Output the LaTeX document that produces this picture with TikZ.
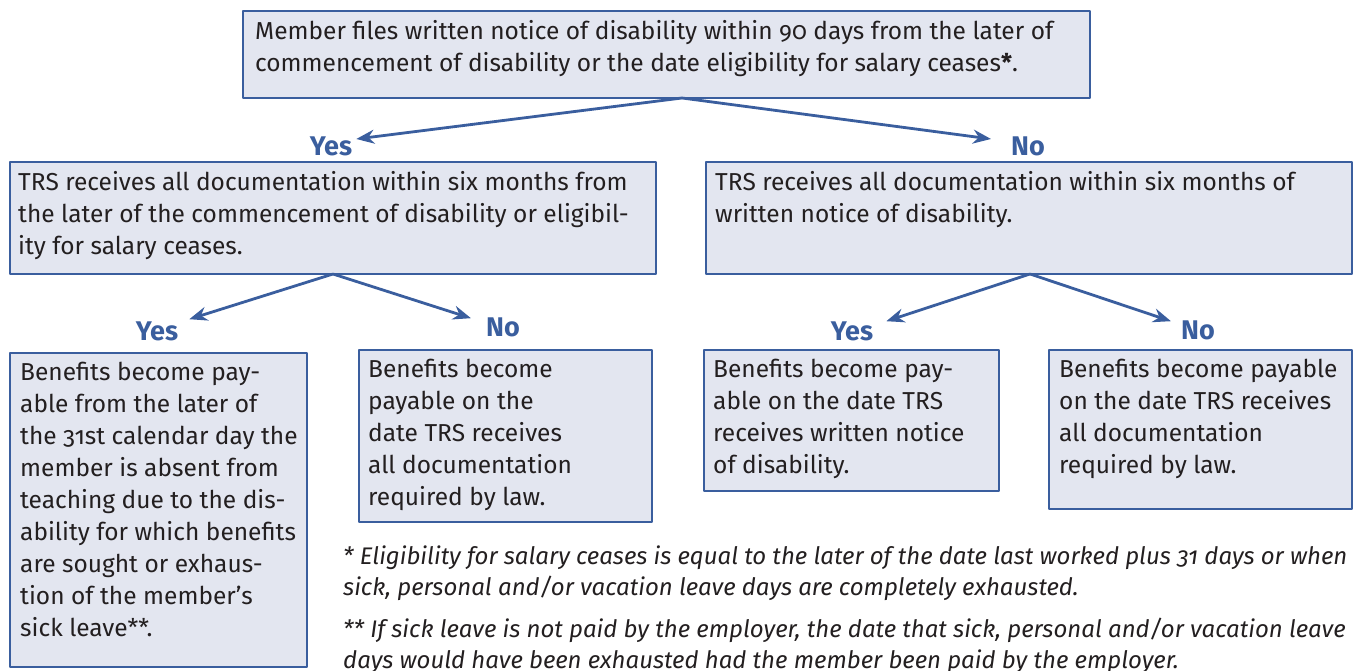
\documentclass[tikz,border=0pt]{standalone}
\usepackage{fontspec}
\setmainfont[Numbers=OldStyle]{Fira Sans}
\newfontfamily\notefont[Numbers=OldStyle]{Fira Sans}
\usetikzlibrary{arrows.meta}
\definecolor{boxfill}{RGB}{227,230,240}
\definecolor{boxline}{RGB}{58,94,158}
\definecolor{ink}{RGB}{35,31,32}
\tikzset{
  qbox/.style={draw=boxline, fill=boxfill, line width=2pt, anchor=north west, inner sep=0pt},
  qtext/.style={anchor=north west, align=left, inner sep=0pt, text=ink, font=\fontsize{24.5}{32}\selectfont},
  answer/.style={text=boxline, inner sep=0pt, font=\fontsize{27}{28}\selectfont\bfseries},
  note/.style={anchor=north west, align=left, inner sep=0pt, text=ink, font=\notefont\itshape\fontsize{24}{31}\selectfont},
  flow/.style={draw=boxline, line width=2.8pt, -{Stealth[length=18pt,width=14pt]}}
}
\begin{document}
\begin{tikzpicture}[x=1pt,y=-1pt,line join=round]
\useasboundingbox (0,0) rectangle (1356,671);
% boxes
\node[qbox, minimum width=847pt, minimum height=87pt] (notice) at (242,10) {};
\node[qbox, minimum width=646pt, minimum height=112pt] (docsA) at (9,161) {};
\node[qbox, minimum width=646pt, minimum height=112pt] (docsB) at (705,161) {};
\node[qbox, minimum width=297pt, minimum height=314pt] (payA) at (9,352) {};
\node[qbox, minimum width=293pt, minimum height=172pt] (payB) at (358,349) {};
\node[qbox, minimum width=295pt, minimum height=141pt] (payC) at (703,349) {};
\node[qbox, minimum width=303pt, minimum height=159pt] (payD) at (1048,349) {};
% texts
\node[qtext] (noticetxt) at (255,20) {Member files written notice of disability within 90 days from the later of\\commencement of disability or the date eligibility for salary ceases\textbf{*}.};
\node[qtext] (docsAtxt) at (18,171) {TRS receives all documentation within six months from\\the later of the commencement of disability or eligibil-\\ity for salary ceases.};
\node[qtext] (docsBtxt) at (715,171) {TRS receives all documentation within six months of\\written notice of disability.};
\node[qtext] (payAtxt) at (20,362) {Benefits become pay-\\able from the later of\\the 31st calendar day the\\member is absent from\\teaching due to the dis-\\ability for which benefits\\are sought or exhaus-\\tion of the member’s\\sick leave**.};
\node[qtext] (payBtxt) at (368,359) {Benefits become\\payable on the\\date TRS receives\\all documentation\\required by law.};
\node[qtext] (payCtxt) at (713,359) {Benefits become pay-\\able on the date TRS\\receives written notice\\of disability.};
\node[qtext] (payDtxt) at (1059,359) {Benefits become payable\\on the date TRS receives\\all documentation\\required by law.};
% answers
\node[answer] (yes1) at (331,146) {Yes};
\node[answer] (no1) at (1028,146) {No};
\node[answer] (yes2) at (157,331) {Yes};
\node[answer] (no2) at (503,327) {No};
\node[answer] (yes3) at (852,331) {Yes};
\node[answer] (no3) at (1198,330) {No};
% arrows
\coordinate (splitA) at (682,98);
\coordinate (splitB) at (333,274);
\coordinate (splitC) at (1030,274);
\draw[flow] (splitA) -- ([xshift=4pt,yshift=7pt]yes1.east);
\draw[flow] (splitA) -- ([xshift=-20pt,yshift=7pt]no1.west);
\draw[flow] (splitB) -- ([xshift=11pt,yshift=2pt]yes2.north east);
\draw[flow] (splitB) -- ([xshift=-15pt,yshift=-1pt]no2.north west);
\draw[flow] (splitC) -- ([xshift=13pt,yshift=0pt]yes3.north east);
\draw[flow] (splitC) -- ([xshift=-10pt,yshift=-1pt]no3.north west);
% footnotes
\node[note] (note1) at (343,546) {* Eligibility for salary ceases is equal to the later of the date last worked plus 31 days or when\\sick, personal and/or vacation leave days are completely exhausted.};
\node[note] (note2) at (343,618) {** If sick leave is not paid by the employer, the date that sick, personal and/or vacation leave\\days would have been exhausted had the member been paid by the employer.};
\end{tikzpicture}
\end{document}
